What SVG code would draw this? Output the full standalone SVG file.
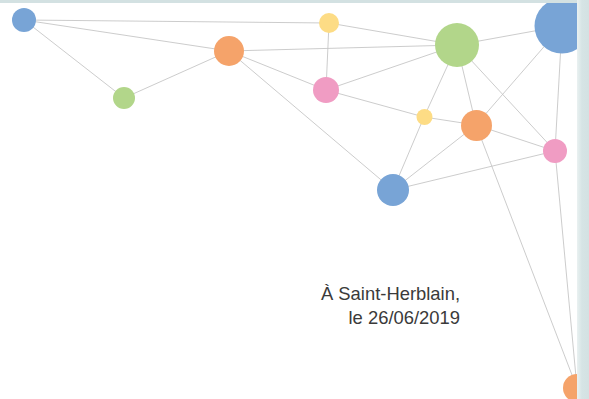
<svg xmlns="http://www.w3.org/2000/svg" width="589" height="399" viewBox="0 0 589 399">
<style>
.e{stroke:#c6c6c6;stroke-width:0.9;fill:none}
.b{fill:#78a4d6}.g{fill:#b2d68a}.o{fill:#f5a36a}.y{fill:#fddc85}.p{fill:#f09cc3}
.t{font-family:"Liberation Sans",Arial,sans-serif;font-size:18.4px;fill:#3a3a3a;text-anchor:end}
</style>
<defs>
<linearGradient id="band" x1="0" x2="1" y1="0" y2="0">
<stop offset="0" stop-color="#eaf1f1"/><stop offset="0.4" stop-color="#d6e4e5"/><stop offset="1" stop-color="#d3e1e2"/>
</linearGradient>
</defs>
<rect width="589" height="399" fill="#ffffff"/>
<g id="connectors">
<line class="e" x1="24" y1="20" x2="329" y2="23"/>
<line class="e" x1="24" y1="20" x2="229" y2="51"/>
<line class="e" x1="24" y1="20" x2="124" y2="98"/>
<line class="e" x1="124" y1="98" x2="229" y2="51"/>
<line class="e" x1="229" y1="51" x2="457" y2="45"/>
<line class="e" x1="229" y1="51" x2="326" y2="90"/>
<line class="e" x1="229" y1="51" x2="393" y2="190"/>
<line class="e" x1="329" y1="23" x2="457" y2="45"/>
<line class="e" x1="329" y1="23" x2="326" y2="90"/>
<line class="e" x1="326" y1="90" x2="457" y2="45"/>
<line class="e" x1="326" y1="90" x2="424" y2="117"/>
<line class="e" x1="424" y1="117" x2="476" y2="125"/>
<line class="e" x1="457" y1="45" x2="424" y2="117"/>
<line class="e" x1="457" y1="45" x2="476" y2="125"/>
<line class="e" x1="457" y1="45" x2="555" y2="151"/>
<line class="e" x1="457" y1="45" x2="562" y2="26"/>
<line class="e" x1="562" y1="26" x2="476" y2="125"/>
<line class="e" x1="562" y1="26" x2="555" y2="151"/>
<line class="e" x1="555" y1="151" x2="577" y2="388"/>
<line class="e" x1="476" y1="125" x2="577" y2="388"/>
<line class="e" x1="476" y1="125" x2="555" y2="151"/>
<line class="e" x1="476" y1="125" x2="393" y2="190"/>
<line class="e" x1="424" y1="117" x2="393" y2="190"/>
<line class="e" x1="393" y1="190" x2="555" y2="151"/>
</g>
<g id="n1"><circle class="b" cx="24" cy="20" r="12"/></g>
<g id="n2"><circle class="g" cx="124" cy="98" r="11"/></g>
<g id="n3"><circle class="o" cx="229" cy="51" r="15"/></g>
<g id="n4"><circle class="y" cx="329" cy="23" r="10"/></g>
<g id="n5"><circle class="g" cx="457" cy="45" r="22"/></g>
<g id="n6"><circle class="b" cx="562" cy="26" r="27.5"/></g>
<g id="n7"><circle class="p" cx="326" cy="90" r="13"/></g>
<g id="n8"><circle class="y" cx="424.5" cy="117" r="8"/></g>
<g id="n9"><circle class="o" cx="476.5" cy="125.5" r="15.5"/></g>
<g id="n10"><circle class="p" cx="555" cy="151" r="12"/></g>
<g id="n11"><circle class="b" cx="393" cy="190" r="16"/></g>
<g id="n12"><circle class="o" cx="577" cy="388" r="14"/></g>
<g id="border">
<rect x="0" y="0" width="589" height="3" fill="#d3e1e2"/>
<rect x="577" y="0" width="12" height="399" fill="url(#band)"/>
</g>
<g id="caption">
<text class="t" x="460" y="300">À Saint-Herblain,</text>
<text class="t" x="460" y="324">le 26/06/2019</text>
</g>
</svg>
